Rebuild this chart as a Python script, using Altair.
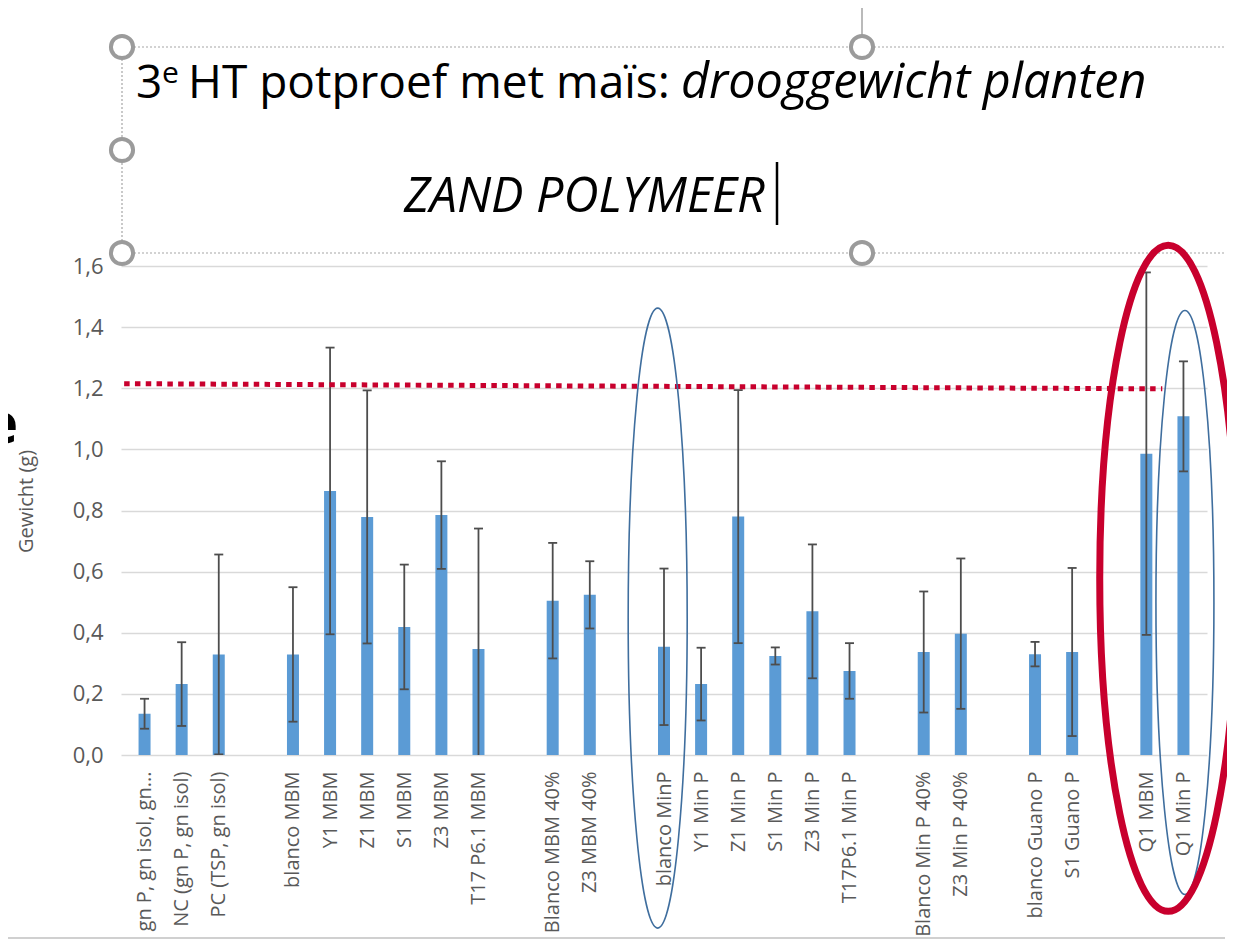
import json
import altair as alt
import pandas as pd

# ---------------- data ----------------
groups = [
    ["gn P, gn isol, gn...", "NC (gn P, gn isol)", "PC (TSP, gn isol)"],
    ["blanco MBM", "Y1 MBM", "Z1 MBM", "S1 MBM", "Z3 MBM", "T17 P6.1 MBM"],
    ["Blanco MBM 40%", "Z3 MBM 40%"],
    ["blanco MinP", "Y1 Min P", "Z1 Min P", "S1 Min P", "Z3 Min P", "T17P6.1 Min P"],
    ["Blanco Min P 40%", "Z3 Min P 40%"],
    ["blanco Guano P", "S1 Guano P"],
    ["Q1 MBM", "Q1 Min P"],
]
means = [0.135, 0.232, 0.329,
         0.329, 0.864, 0.779, 0.419, 0.785, 0.347,
         0.505, 0.524,
         0.354, 0.232, 0.780, 0.324, 0.470, 0.275,
         0.337, 0.397,
         0.330, 0.337,
         0.986, 1.108]
errors = [0.049, 0.137, 0.327,
          0.220, 0.469, 0.414, 0.204, 0.176, 0.394,
          0.189, 0.110,
          0.256, 0.119, 0.414, 0.028, 0.219, 0.091,
          0.198, 0.246,
          0.040, 0.275,
          0.593, 0.180]
y_ticks = [0.0, 0.2, 0.4, 0.6, 0.8, 1.0, 1.2, 1.4, 1.6]

title_plain = "HT potproef met maïs:"
title_italic = "drooggewicht planten"
subtitle = "ZAND POLYMEER"
y_title = "Gewicht (g)"

# annotation: dotted red reference line (slot positions / y values)
ref_x = [-0.55, 27.43]
ref_y = [1.215, 1.198]
# annotation ellipses: centre slot, centre y, radius x (px), radius y (px)
ell_slot = [13.83, 28.04, 27.59]
ell_y = [0.448, 0.499, 0.578]
ell_rx = [29.5, 29.0, 68.5]
ell_ry = [310.0, 292.0, 333.0]
ell_color = ["#3F6E9E", "#3F6E9E", "#C8002D"]
ell_width = [1.6, 1.6, 7.0]

# ---------------- build table ----------------
categories, slots = [], []
pos = 0
for gi, g in enumerate(groups):
    if gi > 0:
        pos += 1
    for c in g:
        categories.append(c)
        slots.append(pos)
        pos += 1
n_slots = pos

df = pd.DataFrame({"cat": categories, "slot": slots, "mean": means, "err": errors})
df["hi"] = df["mean"] + df["err"]
df["lo"] = df["mean"] - df["err"]

label_arr = [""] * n_slots
for c, s in zip(categories, slots):
    label_arr[s] = c
label_expr = json.dumps(label_arr) + "[datum.value]"

W, H = 1086, 489
FONT = "Open Sans"
GREY = "#595959"
BAR = "#5B9BD5"
RED = "#C8002D"

xscale = alt.Scale(domain=[-0.5, n_slots - 0.5], nice=False, zero=False)
yscale = alt.Scale(domain=[0, 1.6], nice=False, zero=True)

x_axis = alt.Axis(values=slots, labelExpr=label_expr, labelAngle=-90, labelFont=FONT,
                  labelFontSize=20, labelColor=GREY, labelPadding=16, labelLimit=400,
                  ticks=False, tickSize=0, domain=False, grid=False, title=None,
                  labelOverlap=False)
y_axis = alt.Axis(values=y_ticks, labelExpr="replace(format(datum.value, '.1f'), '.', ',')",
                  labelFont=FONT, labelFontSize=22, labelColor=GREY, labelPadding=18,
                  ticks=False, tickSize=0, domain=False, grid=True, gridColor="#D9D9D9",
                  gridWidth=1.4, title=y_title, titleFont=FONT, titleFontSize=20,
                  titleFontWeight="normal", titleColor=GREY, titleAngle=-90,
                  titleX=-95, titleY=235, titleAlign="center", titleBaseline="middle")

base = alt.Chart(df)
bars = base.mark_bar(size=12, color=BAR).encode(
    x=alt.X("slot:Q", scale=xscale, axis=x_axis),
    y=alt.Y("mean:Q", scale=yscale, axis=y_axis),
)
err_rule = base.mark_rule(color="#4D4D4D", strokeWidth=1.8, clip=True).encode(
    x="slot:Q", y="lo:Q", y2="hi:Q")
caps = base.transform_fold(["lo", "hi"], as_=["k", "v"]).mark_tick(
    orient="horizontal", size=9, thickness=1.8, color="#4D4D4D", opacity=1, clip=True
).encode(x="slot:Q", y="v:Q")

ref_df = pd.DataFrame({"x": [ref_x[0]], "x2": [ref_x[1]], "y": [ref_y[0]], "y2": [ref_y[1]]})
ref = alt.Chart(ref_df).mark_rule(color=RED, strokeWidth=5, strokeDash=[5.5, 5.3]).encode(
    x="x:Q", x2="x2:Q", y="y:Q", y2="y2:Q")


def ellipse_path(rx, ry):
    a = rx / ry
    k = 0.5523
    return (f"M0,-1C{k*a:.4f},-1,{a:.4f},{-k:.4f},{a:.4f},0"
            f"C{a:.4f},{k:.4f},{k*a:.4f},1,0,1"
            f"C{-k*a:.4f},1,{-a:.4f},{k:.4f},{-a:.4f},0"
            f"C{-a:.4f},{-k:.4f},{-k*a:.4f},-1,0,-1Z")


ell_df = pd.DataFrame({
    "slot": ell_slot, "y": ell_y,
    "shape": [ellipse_path(rx, ry) for rx, ry in zip(ell_rx, ell_ry)],
    "size": [(2 * ry) ** 2 for ry in ell_ry],
    "col": ell_color, "w": ell_width,
})
ellipses = alt.Chart(ell_df).mark_point(filled=False, opacity=1).encode(
    x="slot:Q", y="y:Q",
    shape=alt.Shape("shape:N", scale=None),
    size=alt.Size("size:Q", scale=None),
    stroke=alt.Stroke("col:N", scale=None),
    strokeWidth=alt.StrokeWidth("w:Q", scale=None),
)

one = pd.DataFrame({"k": [0]})


def hline(x1, x2, y, color, width, dash=None):
    kw = dict(color=color, strokeWidth=width)
    if dash:
        kw["strokeDash"] = dash
    return alt.Chart(one).mark_rule(**kw).encode(
        x=alt.value(x1), x2=alt.value(x2), y=alt.value(y), y2=alt.value(y))


def vline(x, y1, y2, color, width, dash=None):
    kw = dict(color=color, strokeWidth=width)
    if dash:
        kw["strokeDash"] = dash
    return alt.Chart(one).mark_rule(**kw).encode(
        x=alt.value(x), x2=alt.value(x), y=alt.value(y1), y2=alt.value(y2))


def txt(s, x, y, size, style="normal", weight="normal", align="left", color="black"):
    return alt.Chart(pd.DataFrame({"t": [s]})).mark_text(
        align=align, baseline="alphabetic", font=FONT, fontSize=size,
        fontStyle=style, fontWeight=weight, color=color).encode(
        text="t:N", x=alt.value(x), y=alt.value(y))


BOX = "#A6A6A6"
box_lines = [
    hline(1, 1105, -219, BOX, 1.2, [2, 2]),
    hline(1, 1105, -13, BOX, 1.2, [2, 2]),
    vline(1, -219, -13, BOX, 1.2, [2, 2]),
    vline(741, -258, -230, "#8C8C8C", 1.2),
]
handles_df = pd.DataFrame({"px": [1, 741, 1, 1, 741], "py": [-219, -219, -116, -13, -13]})
handles = alt.Chart(handles_df).mark_point(
    shape="circle", size=490, filled=True, fill="white", stroke="#9B9B9B",
    strokeWidth=4, opacity=1).encode(
    x=alt.X("px:Q", scale=None, axis=None), y=alt.Y("py:Q", scale=None, axis=None))

texts = [
    txt("3", 15, -168, 46),
    txt("e", 41, -183, 30),
    txt(title_plain, 67, -168, 46),
    txt(title_italic, 560, -168, 48.5, style="italic"),
    txt(subtitle, 283, -54, 48.5, style="italic"),
    txt("e", -103, 177, 56, weight="bold", align="right"),
]
cursor = vline(656, -104, -41, "black", 2.5)
bottom_line = hline(-113, 1104, 672, "#D0D0D0", 2)

chart = alt.layer(
    bars, err_rule, caps, ref, *box_lines, handles, *texts, cursor, bottom_line, ellipses
).properties(
    width=W, height=H,
    padding={"left": 113, "top": 258, "right": 20, "bottom": 185},
    autosize=alt.AutoSizeParams(type="none"),
).configure(font=FONT).configure_view(stroke=None, strokeWidth=0)

chart.save("out.html", embed_options={"renderer": "svg", "actions": False})
